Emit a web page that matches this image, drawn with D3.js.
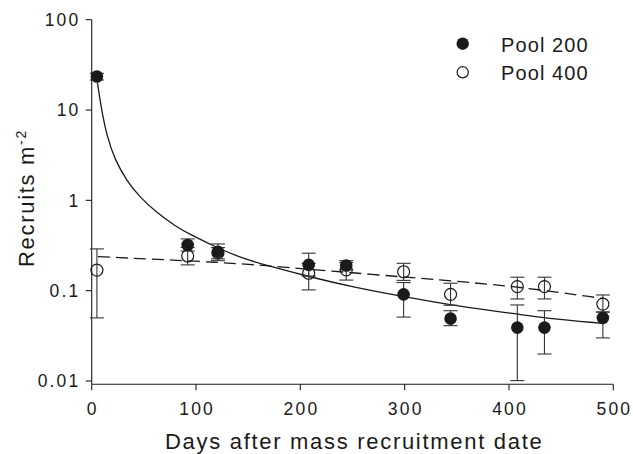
<!DOCTYPE html>
<html>
<head>
<meta charset="utf-8">
<script src="https://cdn.jsdelivr.net/npm/d3@7/dist/d3.min.js"></script>
<style>
  html, body { margin: 0; padding: 0; background: #fff; }
  svg { display: block; }
  text { font-family: "Liberation Sans", Arial, sans-serif; fill: #1a1a1a; }
</style>
</head>
<body>
<svg id="chart" width="633" height="454"></svg>
<script>
// ---- Data ----
const days = [5, 92, 121, 208, 244, 299, 344, 408, 434, 490];

const pool200 = [23.5, 0.32, 0.27, 0.193, 0.19, 0.091, 0.049, 0.039, 0.039, 0.050];
const pool200Low = [21.5, 0.275, 0.215, 0.145, 0.17, 0.051, 0.041, 0.0101, 0.0199, 0.030];
const pool200High = [25.5, 0.374, 0.329, 0.26, 0.215, 0.123, 0.060, 0.0695, 0.060, 0.058];

const pool400 = [0.169, 0.242, 0.262, 0.156, 0.17, 0.162, 0.091, 0.111, 0.111, 0.071];
const pool400Low = [0.050, 0.193, 0.225, 0.102, 0.131, 0.13, 0.069, 0.081, 0.081, 0.058];
const pool400High = [0.29, 0.30, 0.30, 0.20, 0.205, 0.201, 0.121, 0.141, 0.141, 0.0896];

// fitted curve for Pool 200 (solid)
const fit200Days = [5.5, 8, 9.6, 14.4, 22.3, 33.5, 46.3, 62.3, 80, 94.2, 119.8, 145.3, 168, 208, 250, 298.7, 353, 408, 434, 490];
const fit200Vals = [20, 13, 10, 5.2, 2.8, 1.65, 1.08, 0.73, 0.52, 0.42, 0.3, 0.226, 0.19, 0.143, 0.11, 0.086, 0.0665, 0.0552, 0.0495, 0.0435];

// fitted line for Pool 400 (dashed)
const fit400Days = [6, 130, 180, 353, 408, 490];
const fit400Vals = [0.238, 0.205, 0.184, 0.126, 0.111, 0.082];

const xTicks = [0, 100, 200, 300, 400, 500];
const yTicks = [0.01, 0.1, 1, 10, 100];
const yTickLabels = ["0.01", "0.1", "1", "10", "100"];
const seriesNames = ["Pool 200", "Pool 400"];

// ---- Layout ----
const svg = d3.select("#chart");
const x = d3.scaleLinear().domain([0, 500]).range([91.7, 613.3]);
const y = d3.scaleLog().domain([0.01, 100]).range([381, 19.7]);
const axisY = 384.3;
const ink = "#1a1a1a";

// axes lines
svg.append("line").attr("x1", x(0)).attr("x2", x(0)).attr("y1", y(100)).attr("y2", axisY)
  .attr("stroke", ink).attr("stroke-width", 1.1);
svg.append("line").attr("x1", x(0)).attr("x2", x(500)).attr("y1", axisY).attr("y2", axisY)
  .attr("stroke", ink).attr("stroke-width", 1.1);

// x ticks
const xg = svg.append("g");
xg.selectAll("line").data(xTicks).join("line")
  .attr("x1", d => x(d)).attr("x2", d => x(d))
  .attr("y1", axisY).attr("y2", axisY + 6)
  .attr("stroke", ink).attr("stroke-width", 1.1);
xg.selectAll("text").data(xTicks).join("text")
  .attr("x", d => x(d) + 1.1).attr("y", 415)
  .attr("text-anchor", "middle")
  .style("font-size", "17.5px").style("letter-spacing", "2.2px")
  .text(d => d);

// y ticks
const yg = svg.append("g");
yg.selectAll("line").data(yTicks).join("line")
  .attr("x1", x(0) - 6).attr("x2", x(0))
  .attr("y1", d => y(d)).attr("y2", d => y(d))
  .attr("stroke", ink).attr("stroke-width", 1.1);
yg.selectAll("text").data(yTicks).join("text")
  .attr("x", 80.5).attr("y", d => y(d) + 6.3)
  .attr("text-anchor", "end")
  .style("font-size", "17.5px").style("letter-spacing", "2.2px")
  .text((d, i) => yTickLabels[i]);

// axis titles
svg.append("text")
  .attr("x", (165.7 + 542.7) / 2).attr("y", 449)
  .attr("text-anchor", "middle")
  .style("font-size", "22px").style("letter-spacing", "1.7px")
  .text("Days after mass recruitment date");

const yt = svg.append("text")
  .attr("transform", "translate(33.5,198) rotate(-90)")
  .attr("text-anchor", "middle")
  .style("font-size", "22px").style("letter-spacing", "1.7px");
yt.append("tspan").text("Recruits m");
yt.append("tspan").attr("dy", -8).style("font-size", "14px").text("-2");

// fitted lines
const line = d3.line().x(d => x(d[0])).y(d => y(d[1])).curve(d3.curveBasis);
svg.append("path")
  .attr("d", line(fit200Days.map((d, i) => [d, fit200Vals[i]])))
  .attr("fill", "none").attr("stroke", ink).attr("stroke-width", 1.3);
svg.append("path")
  .attr("d", line(fit400Days.map((d, i) => [d, fit400Vals[i]])))
  .attr("fill", "none").attr("stroke", ink).attr("stroke-width", 1.3)
  .attr("stroke-dasharray", "12,6");

// error bars
function errorBars(lows, highs, cls) {
  const g = svg.append("g").attr("class", cls);
  const data = days.map((d, i) => ({ d, lo: lows[i], hi: highs[i] }));
  g.selectAll("line.v").data(data).join("line").attr("class", "v")
    .attr("x1", e => x(e.d)).attr("x2", e => x(e.d))
    .attr("y1", e => y(e.lo)).attr("y2", e => y(e.hi))
    .attr("stroke", "#333").attr("stroke-width", 1.1);
  g.selectAll("line.lo").data(data).join("line").attr("class", "lo")
    .attr("x1", e => x(e.d) - 7).attr("x2", e => x(e.d) + 7)
    .attr("y1", e => y(e.lo)).attr("y2", e => y(e.lo))
    .attr("stroke", "#333").attr("stroke-width", 1.1);
  g.selectAll("line.hi").data(data).join("line").attr("class", "hi")
    .attr("x1", e => x(e.d) - 7).attr("x2", e => x(e.d) + 7)
    .attr("y1", e => y(e.hi)).attr("y2", e => y(e.hi))
    .attr("stroke", "#333").attr("stroke-width", 1.1);
}
errorBars(pool400Low, pool400High, "eb400");
errorBars(pool200Low, pool200High, "eb200");

// points
svg.append("g").selectAll("circle").data(days).join("circle")
  .attr("cx", d => x(d)).attr("cy", (d, i) => y(pool400[i])).attr("r", 6)
  .attr("fill", "none").attr("stroke", ink).attr("stroke-width", 1.2);
svg.append("g").selectAll("circle").data(days).join("circle")
  .attr("cx", d => x(d)).attr("cy", (d, i) => y(pool200[i])).attr("r", 6.3)
  .attr("fill", ink);

// legend
const lg = svg.append("g");
lg.append("circle").attr("cx", 462.7).attr("cy", 43.7).attr("r", 6.2).attr("fill", ink);
lg.append("circle").attr("cx", 462.7).attr("cy", 72.3).attr("r", 5.6)
  .attr("fill", "none").attr("stroke", ink).attr("stroke-width", 1.2);
lg.selectAll("text").data(seriesNames).join("text")
  .attr("x", 501).attr("y", (d, i) => 52.3 + i * 28)
  .style("font-size", "20px").style("letter-spacing", "1.1px")
  .text(d => d);
</script>
</body>
</html>
